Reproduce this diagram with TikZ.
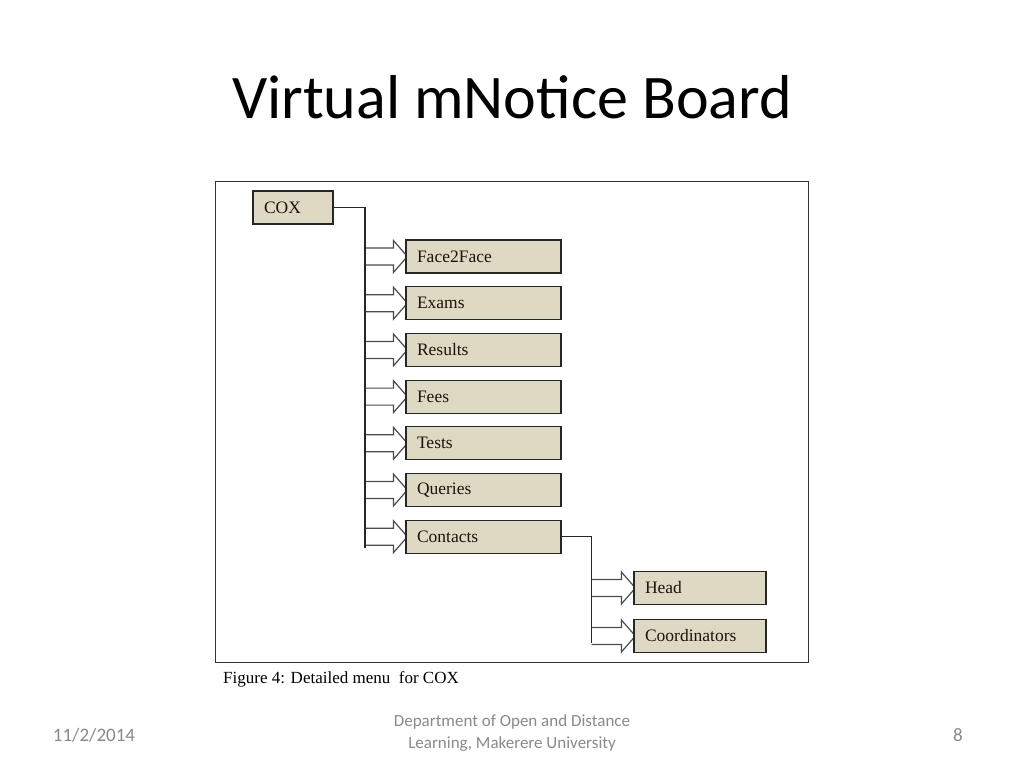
\documentclass[tikz,border=0pt]{standalone}
\usepackage{fontspec}
\setmainfont{Liberation Serif}
\newfontfamily\slidefont{Carlito}
\usetikzlibrary{positioning, calc, backgrounds}
\definecolor{boxtan}{HTML}{DDD9C3}
\definecolor{footgray}{HTML}{8A8A8A}
\tikzset{
x=1pt, y=1pt, % one unit is one pixel of the slide
node distance=46.7pt, % distance between two menu entries
menu/.style={draw=black!85, fill=boxtan, line width=1.2pt, minimum height=33pt, inner xsep=11pt, align=left, font=\fontsize{17.5}{20}\selectfont, text=black!85!brown},
mainitem/.style={menu, text width=133pt}, % entries of the first level
subitem/.style={menu, text width=110pt}, % entries under Contacts
bus/.style={draw=black!85, line width=1.3pt},
fatarrow/.style={draw=black!70, fill=white, line width=1.2pt},
footer/.style={font=\slidefont\fontsize{17}{22}\selectfont, text=footgray, align=center},
}

\begin{document}
\begin{tikzpicture}
        \useasboundingbox (0,0) rectangle (1024,-768);
        \node[font=\slidefont\fontsize{62}{74}\selectfont] (title) at (512,-97) {Virtual mNotice Board};
        \draw[draw=black!80, line width=1pt] (215,-181) rectangle (808,-662);

        \node[menu, text width=58pt] (cox) at (293,-207.5) {COX};
        \node[mainitem] (f2f) at (483.5,-256.5) {Face2Face};
        \node[mainitem, below of=f2f] (exams) {Exams};
        \node[mainitem, below of=exams] (results) {Results};
        \node[mainitem, below of=results] (fees) {Fees};
        \node[mainitem, below of=fees] (tests) {Tests};
        \node[mainitem, below of=tests] (queries) {Queries};
        \node[mainitem, below of=queries] (contacts) {Contacts};
        \node[subitem] (head) at (700,-588) {Head};
        \node[subitem, below of=head, node distance=48pt] (coord) {Coordinators};

        \coordinate (coxend) at (365,-548);
        \coordinate (contend) at (591.5,-643);

        \begin{scope}[on background layer]
        \fill[white] (0,0) rectangle (1024,-768);
        % hollow block arrows from the bus line to each entry
        \foreach \item/\stem in {f2f/coxend, exams/coxend, results/coxend, fees/coxend, tests/coxend, queries/coxend, contacts/coxend, head/contend, coord/contend}
          \draw[fatarrow] ($(\stem |- \item.west)+(0,8.5)$) -- ($(\item.west)+(-12,8.5)$) -- ($(\item.west)+(-12,16)$) -- ($(\item.west)+(2,0)$) -- ($(\item.west)+(-12,-16)$) -- ($(\item.west)+(-12,-8.5)$) -- ($(\stem |- \item.west)+(0,-8.5)$);
        \end{scope}

        \draw[bus] (cox.east) -| (coxend);
        \draw[bus] (contacts.east) -| (contend);

        \node[anchor=west, inner sep=0pt, font=\fontsize{17}{20}\selectfont] (caption) at (223,-679) {Figure 4: Detailed menu\ \ for COX};

        \node[footer, font=\slidefont\fontsize{19}{22}\selectfont] (date) at (94,-735) {11/2/2014};
        \node[footer] (dept) at (512,-733) {Department of Open and Distance\\Learning, Makerere University};
        \node[footer, font=\slidefont\fontsize{19}{22}\selectfont] (page) at (958,-735) {8};
      \end{tikzpicture}
\end{document}
